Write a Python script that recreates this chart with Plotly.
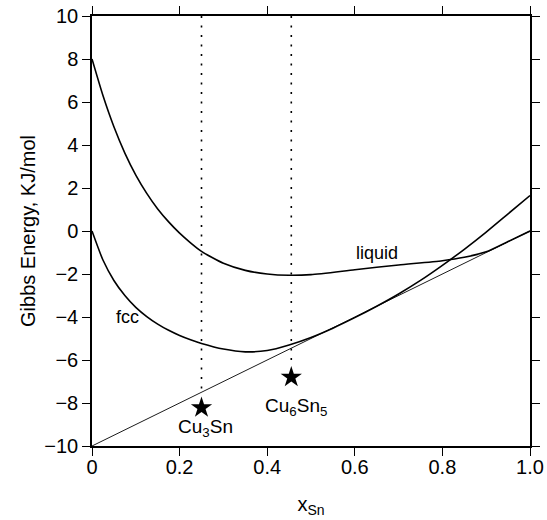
import plotly.graph_objects as go

# Gibbs energy curves (kJ/mol) vs. Sn mole fraction
liquid_x = [0, 0.025, 0.05, 0.075, 0.1, 0.125, 0.15, 0.175, 0.2, 0.225, 0.25, 0.3,
            0.35, 0.4, 0.45, 0.5, 0.6, 0.7, 0.8, 0.85, 0.9, 0.95, 1.0]
liquid_g = [8.0, 6.3, 4.85, 3.625, 2.6, 1.75, 1.025, 0.425, -0.1, -0.55, -0.95, -1.5,
            -1.83, -2.0, -2.06, -2.03, -1.8, -1.58, -1.38, -1.22, -0.97, -0.49, 0.0]

fcc_x = [0, 0.025, 0.05, 0.075, 0.1, 0.125, 0.15, 0.175, 0.2, 0.225, 0.25, 0.3, 0.35,
         0.4, 0.45, 0.5, 0.55, 0.6, 0.65, 0.7, 0.75, 0.8, 0.85, 0.9, 0.95, 1.0]
fcc_g = [0.0, -1.35, -2.3, -3.0, -3.55, -3.98, -4.33, -4.62, -4.86, -5.06, -5.23, -5.49,
         -5.62, -5.56, -5.3, -4.95, -4.52, -4.03, -3.5, -2.93, -2.3, -1.6, -0.85, -0.05,
         0.8, 1.65]

# common tangent line
tangent_x = [0.0, 1.0]
tangent_g = [-10.0, 0.0]

# intermetallic compounds
compound_names = ["Cu<sub>3</sub>Sn", "Cu<sub>6</sub>Sn<sub>5</sub>"]
compound_x = [0.25, 0.455]
compound_g = [-8.22, -6.8]
guide_bottom = [-7.6, -6.3]
label_g = [-9.15, -8.2]

phase_labels = ["liquid", "fcc"]
phase_label_x = [0.65, 0.08]
phase_label_g = [-1.0, -4.0]

x_ticks = [0, 0.2, 0.4, 0.6, 0.8, 1.0]
x_ticktext = ["0", "0.2", "0.4", "0.6", "0.8", "1.0"]
y_ticks = [-10, -8, -6, -4, -2, 0, 2, 4, 6, 8, 10]

FONT = "Liberation Sans, Arial, Helvetica, sans-serif"

fig = go.Figure()

# vertical dotted guides at compound compositions
for xc, yb in zip(compound_x, guide_bottom):
    fig.add_trace(go.Scatter(x=[xc, xc], y=[10, yb], mode="lines",
                             line=dict(color="black", width=1.6, dash="2px,7.5px"),
                             hoverinfo="skip", showlegend=False))

fig.add_trace(go.Scatter(x=tangent_x, y=tangent_g, mode="lines",
                         line=dict(color="black", width=0.9), showlegend=False))
fig.add_trace(go.Scatter(x=liquid_x, y=liquid_g, mode="lines",
                         line=dict(color="black", width=1.6, shape="spline", smoothing=0.6),
                         name="liquid", showlegend=False))
fig.add_trace(go.Scatter(x=fcc_x, y=fcc_g, mode="lines",
                         line=dict(color="black", width=1.6, shape="spline", smoothing=0.6),
                         name="fcc", showlegend=False))
fig.add_trace(go.Scatter(x=compound_x, y=compound_g, mode="markers",
                         marker=dict(symbol="star", size=16, color="black"),
                         showlegend=False))

for name, xc, yl in zip(compound_names, compound_x, label_g):
    fig.add_annotation(x=xc + 0.01, y=yl, text=name, showarrow=False,
                       font=dict(family=FONT, size=19, color="black"))

for name, xl, yl in zip(phase_labels, phase_label_x, phase_label_g):
    fig.add_annotation(x=xl, y=yl, text=name, showarrow=False,
                       font=dict(family=FONT, size=18, color="black"))

axis_common = dict(showline=True, linecolor="black", linewidth=1.5, mirror="ticks",
                   ticks="outside", ticklen=8, tickwidth=1.3, tickcolor="black",
                   showgrid=False, zeroline=False, automargin=False,
                   tickfont=dict(family=FONT, size=20, color="black"))

fig.update_xaxes(range=[0, 1], tickvals=x_ticks, ticktext=x_ticktext,
                 ticklabelstandoff=-6,
                 title=dict(text="x<sub>Sn</sub>", font=dict(family=FONT, size=20, color="black"),
                            standoff=20),
                 **axis_common)
fig.update_yaxes(range=[-10, 10], tickvals=y_ticks,
                 title=dict(text="Gibbs Energy, KJ/mol", font=dict(family=FONT, size=20, color="black"),
                            standoff=3),
                 **axis_common)

fig.update_layout(width=547, height=520, margin=dict(l=92, r=17, t=16, b=74),
                  plot_bgcolor="white", paper_bgcolor="white")

fig.write_html("out.html")
